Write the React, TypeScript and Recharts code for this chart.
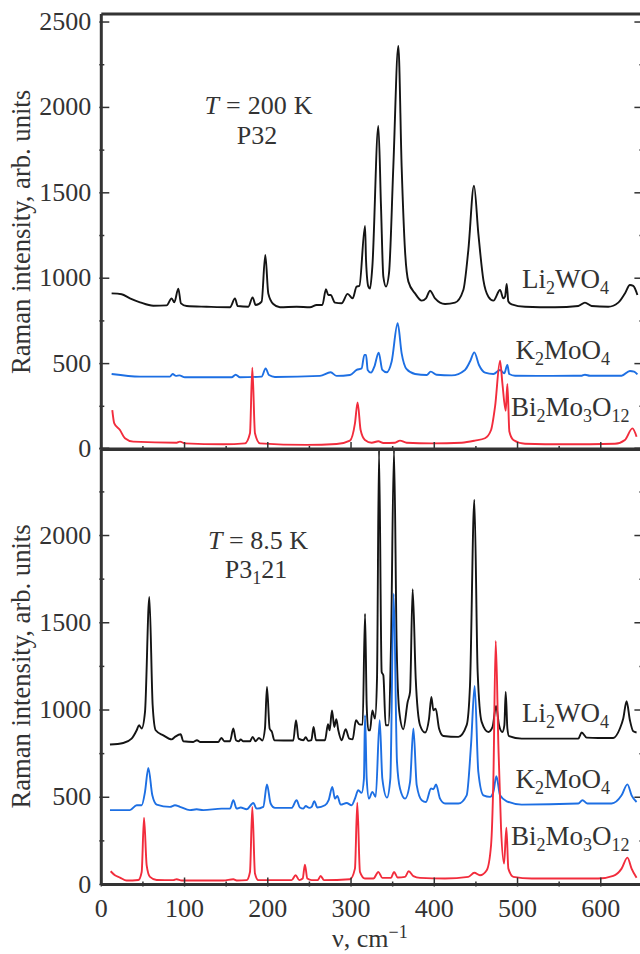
import { LineChart, Line, XAxis, YAxis } from 'recharts';

type Pt = [number, number];

// T = 200 K spectra, [wavenumber, intensity]
const li200: Pt[] = [[12.4,911],[24.4,906],[34.4,882],[46.5,859],[62.5,839],[78.5,841],[84.5,882],[87.7,859],[92.5,939],[95.7,853],[102.5,837],[126.5,833],[154.6,830],[160.6,882],[163.8,837],[176.6,833],[181.8,888],[185.4,843],[192.6,863],[197,1136],[200.6,911],[206.6,849],[214.6,830],[234.6,833],[250.7,830],[258.7,843],[265.5,843],[269.9,935],[272.7,902],[275.5,902],[280.7,857],[288.7,853],[295.9,908],[301.9,882],[306.7,951],[310,955],[316.8,1306],[318,1107],[320.8,951],[322.8,939],[325.6,1068],[332.8,1891],[336,1419],[338.8,1009],[342,951],[345.6,1029],[350.8,1653],[356.8,2360],[360.8,1653],[364.8,1165],[368.9,980],[376.9,911],[384.9,869],[390,882],[394.9,927],[400.9,882],[412.9,849],[424.9,857],[434.9,931],[440.9,1165],[447.7,1542],[452.9,1263],[459,989],[465,892],[471,869],[479,931],[483,882],[485,892],[487,966],[489,863],[493,847],[509,833],[545,830],[573,837],[581,857],[589,837],[609,833],[621,857],[629,911],[635,960],[639,955],[644,902]];
const k200: Pt[] = [[12.4,439],[46.5,424],[82.5,424],[85.7,439],[89.7,428],[93.7,431],[100.5,420],[156.6,420],[161.4,435],[166.6,420],[192.6,424],[197.4,472],[201.4,433],[208.6,422],[262.7,428],[275.5,449],[282.7,428],[298.7,433],[306.7,463],[312.7,472],[316,551],[318,551],[320,463],[324,447],[328,482],[333.2,564],[337.6,463],[342.8,449],[348.8,512],[356,736],[360.8,560],[366.8,467],[376.9,439],[390.9,433],[395.7,453],[402.9,435],[420.9,431],[436.9,463],[442.9,512],[448.1,566],[453.7,492],[461,447],[471,439],[479,463],[484,443],[487.8,492],[490,439],[497,429],[541,428],[577,429],[581,435],[587,429],[625,429],[635,457],[640,453],[644,437]];
const bi200: Pt[] = [[13.2,228],[15.6,150],[22.4,111],[28.4,63],[38.4,43],[90.5,37],[94.5,43],[100.5,33],[146.6,28],[172.6,33],[178.6,92],[181.4,476],[184.6,92],[190.6,33],[246.7,24],[282.7,29],[298.7,49],[304.7,150],[307.9,273],[311.5,111],[316.7,53],[324.8,37],[332.8,45],[338.8,35],[352.8,37],[358.8,49],[366.8,37],[396.9,33],[432.9,37],[448.9,49],[460.9,63],[468.2,111],[473,248],[479,517],[481.8,385],[485.8,224],[487.8,381],[490.2,102],[495,53],[509,31],[557,28],[617,31],[629,53],[638,121],[643,72]];

// T = 8.5 K spectra
const li8: Pt[] = [[10.4,802],[26.4,811],[36.4,836],[42.5,884],[45.3,913],[48.5,894],[52.5,989],[57.7,1648],[61.7,1027],[65.3,884],[74.5,855],[84.5,832],[88.5,846],[95.3,861],[98.5,821],[110.5,817],[114.9,827],[118.5,817],[140.6,817],[144.2,840],[147.8,821],[154.6,821],[158.6,894],[161.8,827],[165.4,821],[167.4,832],[170.6,821],[178.6,821],[181.8,846],[185.4,821],[189.4,840],[193.4,825],[196.6,894],[199,1132],[202.2,894],[205,874],[207.8,827],[230.6,825],[233.9,941],[237,836],[242.7,827],[245.5,844],[248.7,823],[252.3,827],[255,903],[257.9,827],[268.7,827],[272.3,918],[274.3,884],[277.1,998],[279.9,903],[282.3,947],[284.7,884],[288.7,827],[293.5,890],[297.9,836],[301.9,832],[305.9,941],[309.9,918],[313.9,916],[316.8,1552],[318.8,1027],[320.8,884],[322.8,884],[325.6,998],[328.8,951],[331.2,1180],[333.6,2488],[336.8,1218],[338.8,1199],[341.6,913],[344.8,913],[348,1371],[351.6,2490],[354.8,1371],[358,989],[362.8,890],[368,1046],[370.9,1104],[374,1692],[377.7,1180],[382.9,913],[388.9,871],[393.7,951],[396.5,1075],[398.9,998],[401.7,1008],[405.7,894],[410.9,851],[428.9,846],[438.9,913],[442.9,1142],[448.1,2206],[452.1,1218],[456.9,932],[465,874],[470,903],[474.2,1023],[477.8,913],[481.8,874],[484.2,913],[485.8,1104],[487.8,894],[489.8,850],[505,836],[573,836],[577,871],[583,842],[597,840],[615,840],[623,894],[627,951],[631,1050],[635,941],[639,878],[643,871]];
const k8: Pt[] = [[10.4,426],[34.4,426],[42.5,454],[48.5,454],[52.5,531],[56.5,668],[61.3,511],[66.5,458],[82.5,445],[88.5,454],[94.5,445],[106.5,426],[114.5,431],[122.5,426],[144.6,435],[154.6,435],[158.6,483],[162.6,435],[167.4,441],[174.6,431],[182.6,467],[186.6,435],[194.6,445],[199,573],[203.4,464],[208.6,439],[228.6,439],[234.6,483],[238.6,441],[242.7,435],[245.5,450],[249.9,439],[252.7,445],[255.9,477],[259.5,441],[268.7,454],[273.1,483],[277.5,559],[280.7,492],[283.5,508],[287.5,458],[294.7,467],[300.7,454],[304.7,492],[308.7,540],[312.7,525],[315.5,607],[316.8,970],[318.8,607],[321.6,492],[325.6,531],[329.6,502],[334.4,941],[337.6,607],[343.2,498],[347.2,607],[351.2,1667],[355.2,703],[358.8,550],[364.8,492],[370.9,588],[374.9,894],[378.9,569],[384.9,483],[390,473],[396.1,550],[398.9,546],[402.1,573],[406.9,492],[412.9,464],[428.9,464],[438.9,511],[444.1,798],[448.5,1138],[452.9,645],[459,511],[467,502],[471,531],[474.6,620],[479,511],[487,477],[505,458],[573,464],[578,483],[584,464],[613,464],[625,511],[632,574],[637,511],[643,473]];
const bi8: Pt[] = [[11.2,76],[16.4,53],[22.4,40],[30.4,23],[44.5,26],[48.5,72],[51.3,383],[54.5,110],[58.5,44],[66.5,26],[86.5,25],[90.5,30],[96.5,23],[146.6,23],[158.6,30],[162.6,23],[174.6,25],[178.6,72],[181.4,445],[184.6,63],[188.6,25],[228.6,25],[233.4,53],[237.8,25],[241.9,34],[244.6,114],[247.5,34],[252.7,25],[259.9,25],[263.5,49],[267.5,25],[298.7,30],[304.7,91],[307.5,469],[310.7,72],[316.7,34],[326.8,34],[332.8,72],[337.6,38],[348,38],[351.6,72],[356,40],[364.8,44],[369.3,76],[374.9,48],[382.9,38],[412.9,34],[440.9,44],[448.1,67],[454.9,53],[463,82],[468.2,225],[471,607],[473.8,1396],[477,798],[480.2,321],[483.8,120],[486.6,326],[489,91],[495,44],[517,34],[597,34],[615,49],[625,91],[632,154],[637,91],[643,38]];

const xTicks = [0, 50, 100, 150, 200, 250, 300, 350, 400, 450, 500, 550, 600, 650];
const yTicks = [0, 250, 500, 750, 1000, 1250, 1500, 1750, 2000, 2250, 2500];
const topLabels = [0, 500, 1000, 1500, 2000, 2500];
const bottomLabels = [0, 500, 1000, 1500, 2000];

const INK = '#333';
const FONT = '"Liberation Serif", serif';
const BLACK = '#141414';
const BLUE = '#1d6fe3';
const RED = '#f22c3c';

const toRows = (pts: Pt[]) => pts.map(([x, y]) => ({ x, y }));

// Ticks all point into the frame, so they are drawn by hand with the text
const makeXTick = (dir: number, showLabel: boolean) => (p: any) => {
  const major = p.payload.value % 100 === 0;
  return (
    <g>
      <line x1={p.x} x2={p.x} y1={p.y} y2={p.y + dir * (major ? 9 : 5)} stroke={INK} strokeWidth={1.5} />
      {showLabel && major && (
        <text x={p.x} y={p.y + 30} textAnchor="middle" fontSize={26} fontFamily={FONT} fill={INK}>{p.payload.value}</text>
      )}
    </g>
  );
};

const makeYTick = (dir: number, labels: number[]) => (p: any) => {
  const major = p.payload.value % 500 === 0;
  return (
    <g>
      <line x1={p.x} x2={p.x + dir * (major ? 10 : 5)} y1={p.y} y2={p.y} stroke={INK} strokeWidth={1.5} />
      {labels.includes(p.payload.value) && (
        <text x={p.x - 8} y={p.y + 8} textAnchor="end" fontSize={26} fontFamily={FONT} fill={INK}>{p.payload.value}</text>
      )}
    </g>
  );
};

const axisLine = { stroke: INK, strokeWidth: 3 };

function Panel({ top, height, yMax, series, labels, showX, showTop }: any) {
  return (
    <div style={{ position: 'absolute', left: 0, top: 0 }}>
      <LineChart
        width={660}
        height={954}
        margin={{ left: 100.3, right: 16.6, top: top - 1, bottom: 954 - top - height - 1 }}
      >
        <XAxis xAxisId="b" type="number" dataKey="x" orientation="bottom" domain={[0, 650]} ticks={xTicks} height={1} tickSize={0} tickLine={false} axisLine={axisLine} interval={0} tick={makeXTick(-1, showX)} />
        <XAxis xAxisId="t" type="number" dataKey="x" orientation="top" domain={[0, 650]} ticks={xTicks} height={1} tickSize={0} tickLine={false} axisLine={axisLine} interval={0} tick={showTop ? makeXTick(1, false) : false} />
        <YAxis yAxisId="l" type="number" orientation="left" domain={[0, yMax]} ticks={yTicks} width={1} tickSize={0} tickLine={false} axisLine={axisLine} interval={0} allowDataOverflow tick={makeYTick(1, labels)} />
        <YAxis yAxisId="r" type="number" orientation="right" domain={[0, yMax]} ticks={yTicks} width={1} tickSize={0} tickLine={false} axisLine={axisLine} interval={0} allowDataOverflow tick={makeYTick(-1, [])} />
        {series.map((s: any) => (
          <Line key={s.name} name={s.name} xAxisId="b" yAxisId="l" data={toRows(s.pts)} dataKey="y" type="monotone" stroke={s.color} strokeWidth={1.9} dot={false} isAnimationActive={false} />
        ))}
      </LineChart>
    </div>
  );
}

const Formula = ({ x, y, parts }: { x: number; y: number; parts: string[] }) => (
  <text x={x} y={y} fontSize={27} fontFamily={FONT} fill={INK}>
    {parts.map((part, i) => (
      <tspan key={i} fontSize={i % 2 ? 18 : 27} dy={i === 0 ? 0 : i % 2 ? 6 : -6}>{part}</tspan>
    ))}
  </text>
);

export default function App() {
  return (
    <div style={{ position: 'absolute', left: 0, top: 0, width: 640, height: 954, overflow: 'hidden', background: '#fff' }}>
      <Panel
        top={14}
        height={435}
        yMax={2547}
        labels={topLabels}
        showX={false}
        showTop
        series={[
          { name: 'Li2WO4', pts: li200, color: BLACK },
          { name: 'K2MoO4', pts: k200, color: BLUE },
          { name: 'Bi2Mo3O12', pts: bi200, color: RED },
        ]}
      />
      <Panel
        top={449.5}
        height={435}
        yMax={2493}
        labels={bottomLabels}
        showX
        showTop={false}
        series={[
          { name: 'Li2WO4', pts: li8, color: BLACK },
          { name: 'K2MoO4', pts: k8, color: BLUE },
          { name: 'Bi2Mo3O12', pts: bi8, color: RED },
        ]}
      />
      <svg width={640} height={954} style={{ position: 'absolute', left: 0, top: 0, pointerEvents: 'none' }}>
        <text transform="translate(29.5,232) rotate(-90)" textAnchor="middle" fontSize={26.6} fontFamily={FONT} fill={INK}>Raman intensity, arb. units</text>
        <text transform="translate(29.5,666.5) rotate(-90)" textAnchor="middle" fontSize={26.6} fontFamily={FONT} fill={INK}>Raman intensity, arb. units</text>

        <text x={258.5} y={114} textAnchor="middle" fontSize={26} wordSpacing={0.5} fontFamily={FONT} fill={INK}><tspan fontStyle="italic">T</tspan> = 200 K</text>
        <text x={257} y={144} textAnchor="middle" fontSize={26} fontFamily={FONT} fill={INK}>P32</text>
        <text x={258} y={549} textAnchor="middle" fontSize={26} fontFamily={FONT} fill={INK}><tspan fontStyle="italic">T</tspan> = 8.5 K</text>
        <text x={256} y={578} textAnchor="middle" fontSize={26} fontFamily={FONT} fill={INK}>P3<tspan fontSize={18} dy={6}>1</tspan><tspan dy={-6}>21</tspan></text>

        <Formula x={522} y={288} parts={['Li', '2', 'WO', '4']} />
        <Formula x={515.5} y={359} parts={['K', '2', 'MoO', '4']} />
        <Formula x={511} y={416} parts={['Bi', '2', 'Mo', '3', 'O', '12']} />
        <Formula x={522} y={722} parts={['Li', '2', 'WO', '4']} />
        <Formula x={515.5} y={788} parts={['K', '2', 'MoO', '4']} />
        <Formula x={511} y={845} parts={['Bi', '2', 'Mo', '3', 'O', '12']} />

        <text x={332} y={947} fontSize={26} fontFamily={FONT} fill={INK}>ν, cm<tspan fontSize={18} dy={-9}>−1</tspan></text>
      </svg>
    </div>
  );
}
